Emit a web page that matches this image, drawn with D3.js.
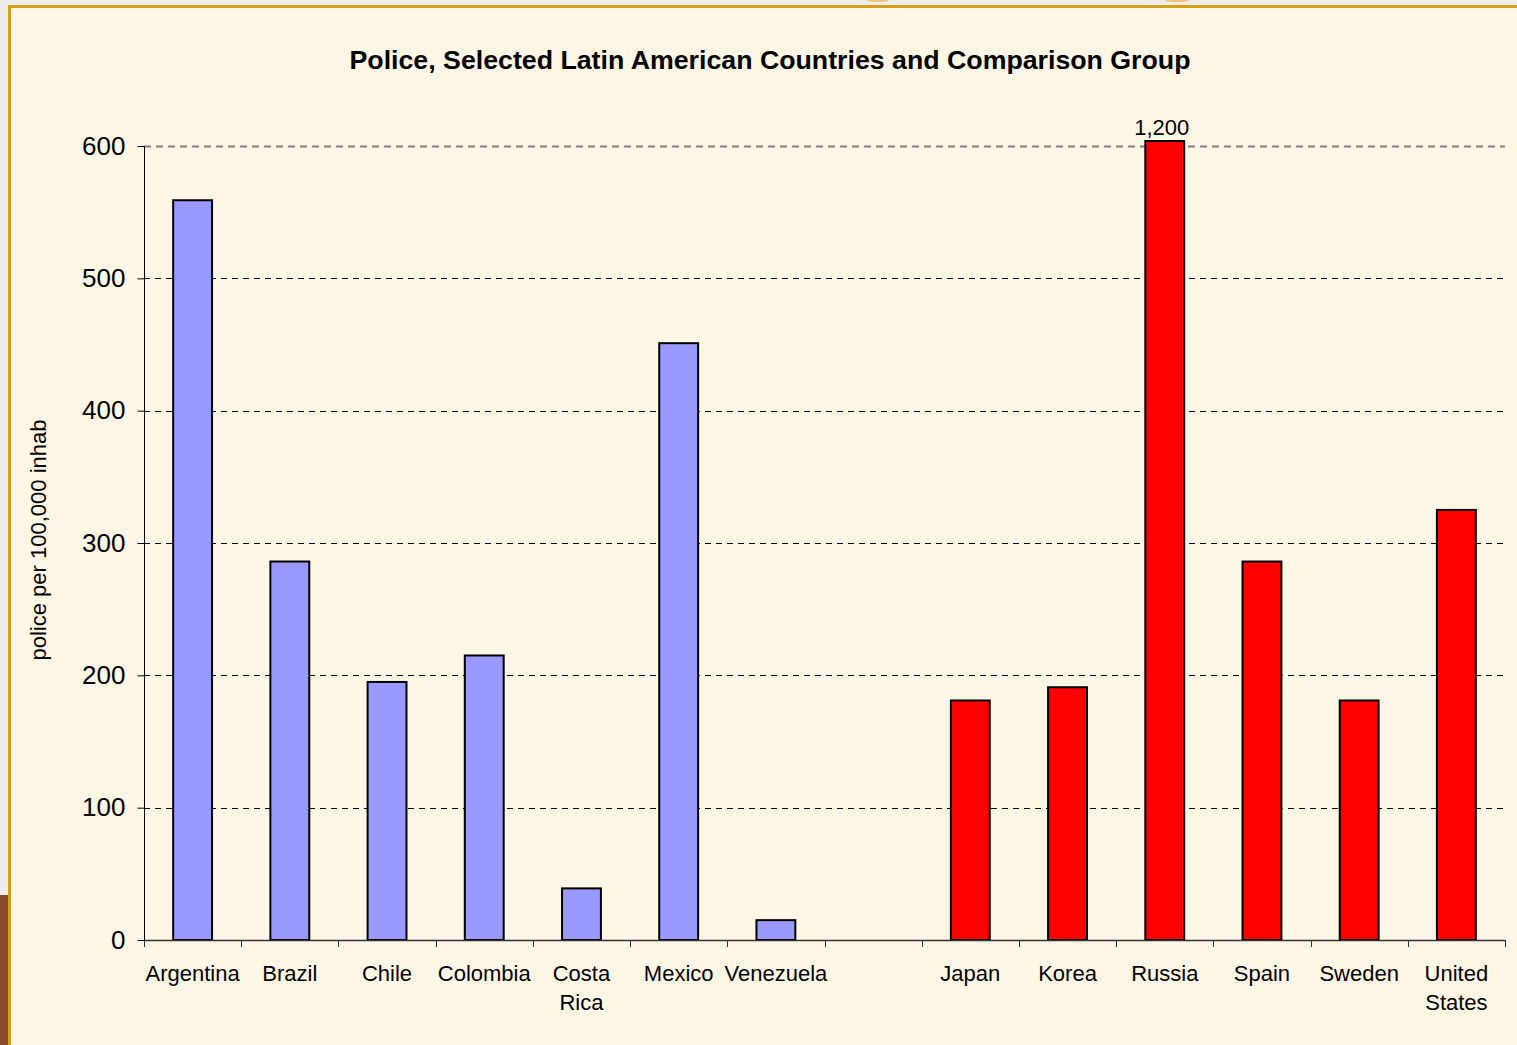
<!DOCTYPE html>
<html>
<head>
<meta charset="utf-8">
<script src="https://cdn.jsdelivr.net/npm/d3@7"></script>
<style>
  html, body { margin: 0; padding: 0; background: #efedea; overflow: hidden; }
  svg { display: block; font-family: Arial, "Liberation Sans", sans-serif; }
</style>
</head>
<body>
<div id="chart"></div>
<script>
// chart data
const categories = ['Argentina', 'Brazil', 'Chile', 'Colombia', 'Costa Rica', 'Mexico', 'Venezuela', '',
    'Japan', 'Korea', 'Russia', 'Spain', 'Sweden', 'United States'];
const labelLines = [['Argentina'], ['Brazil'], ['Chile'], ['Colombia'], ['Costa', 'Rica'], ['Mexico'], ['Venezuela'], [],
    ['Japan'], ['Korea'], ['Russia'], ['Spain'], ['Sweden'], ['United', 'States']];
const values = [559, 286, 195, 215, 39, 451, 15, null, 181, 191, 1200, 286, 181, 325];
const groups = ['latam', 'latam', 'latam', 'latam', 'latam', 'latam', 'latam', null,
    'comp', 'comp', 'comp', 'comp', 'comp', 'comp'];
const yTicks = [0, 100, 200, 300, 400, 500, 600];

const width = 1517, height = 1045;
const colors = { latam: '#9999ff', comp: '#ff0000' };

const svg = d3.select('#chart').append('svg')
    .attr('width', width)
    .attr('height', height);

// slide background bits behind the chart frame
svg.append('rect').attr('x', 0).attr('y', 0).attr('width', width).attr('height', height).style('fill', '#efedea');
svg.append('rect').attr('x', 0).attr('y', 895).attr('width', 10).attr('height', 150).style('fill', '#8a4b2c');
svg.append('ellipse').attr('cx', 878).attr('cy', 0).attr('rx', 11).attr('ry', 2).style('fill', '#f2c27a');
svg.append('ellipse').attr('cx', 1177).attr('cy', 0).attr('rx', 12).attr('ry', 2).style('fill', '#f2c27a');

// chart frame
svg.append('rect')
    .attr('x', 9.5).attr('y', 6.5)
    .attr('width', width).attr('height', height)
    .style('fill', '#fef7e6')
    .style('stroke', '#d4a017')
    .style('stroke-width', 3);

const x0 = 144, x1 = 1505, yTop = 146, yBottom = 940;

const x = d3.scaleBand()
    .domain(categories)
    .range([x0, x1])
    .paddingInner(0.6)
    .paddingOuter(0.3);
const step = x.step();

const y = d3.scaleLinear()
    .domain([0, 600])
    .range([yBottom, yTop]);

// title
svg.append('text')
    .attr('x', 770)
    .attr('y', 69)
    .attr('text-anchor', 'middle')
    .attr('textLength', 841)
    .attr('lengthAdjust', 'spacingAndGlyphs')
    .style('font-size', '25px')
    .style('font-weight', 'bold')
    .style('fill', '#000')
    .text('Police, Selected Latin American Countries and Comparison Group');

// gridlines
svg.append('g').selectAll('line')
    .data(yTicks.filter(d => d > 0))
    .join('line')
    .attr('x1', x0)
    .attr('x2', x1)
    .attr('y1', d => Math.round(y(d)) + 0.5)
    .attr('y2', d => Math.round(y(d)) + 0.5)
    .style('stroke', d => d === 600 ? '#808080' : '#000')
    .style('stroke-width', d => d === 600 ? 2 : 1)
    .style('stroke-dasharray', d => d === 600 ? '7,5' : '6,5');

// y axis
const yAxis = svg.append('g')
    .attr('transform', `translate(${x0 + 0.5},0)`)
    .call(d3.axisLeft(y).tickValues(yTicks).tickSize(7).tickPadding(12).tickFormat(d3.format('d')));
yAxis.select('.domain').style('stroke', '#000').attr('d', `M0,${yTop}V${yBottom}`);
yAxis.selectAll('.tick line').style('stroke', '#000');
yAxis.selectAll('.tick text')
    .style('font-size', '26px')
    .style('font-family', 'Arial, "Liberation Sans", sans-serif')
    .style('fill', '#000');

svg.append('text')
    .attr('transform', `translate(46,540) rotate(-90)`)
    .attr('text-anchor', 'middle')
    .style('font-size', '22px')
    .style('fill', '#000')
    .text('police per 100,000 inhab');

// bars
const bars = svg.append('g');
categories.forEach((c, i) => {
    if (values[i] === null) return;
    const v = Math.min(values[i], 600);
    const top = values[i] > 600 ? y(600) - 5 : y(v);
    bars.append('rect')
        .attr('x', x(c))
        .attr('y', top)
        .attr('width', x.bandwidth())
        .attr('height', yBottom - top)
        .style('fill', colors[groups[i]])
        .style('stroke', '#000')
        .style('stroke-width', 2);
    if (values[i] > 600) {
        svg.append('text')
            .attr('x', x(c) + x.bandwidth() / 2 - 3)
            .attr('y', top - 6)
            .attr('text-anchor', 'middle')
            .style('font-size', '22px')
            .style('fill', '#000')
            .text(d3.format(',')(values[i]));
    }
});

// x axis line and ticks between categories
svg.append('line')
    .attr('x1', x0).attr('x2', x1)
    .attr('y1', yBottom + 0.5).attr('y2', yBottom + 0.5)
    .style('stroke', '#333').style('stroke-width', 1.5);
svg.append('g').selectAll('line')
    .data(d3.range(categories.length + 1))
    .join('line')
    .attr('x1', i => Math.round(x0 + i * step) + 0.5)
    .attr('x2', i => Math.round(x0 + i * step) + 0.5)
    .attr('y1', yBottom)
    .attr('y2', yBottom + 7)
    .style('stroke', '#333');

// category labels
const labels = svg.append('g');
categories.forEach((c, i) => {
    const t = labels.append('text')
        .attr('x', x(c) + x.bandwidth() / 2)
        .attr('y', 981)
        .attr('text-anchor', 'middle')
        .style('font-size', '22px')
        .style('fill', '#000');
    labelLines[i].forEach((line, j) => {
        t.append('tspan')
            .attr('x', x(c) + x.bandwidth() / 2)
            .attr('dy', j === 0 ? 0 : 29)
            .text(line);
    });
});
</script>
</body>
</html>
